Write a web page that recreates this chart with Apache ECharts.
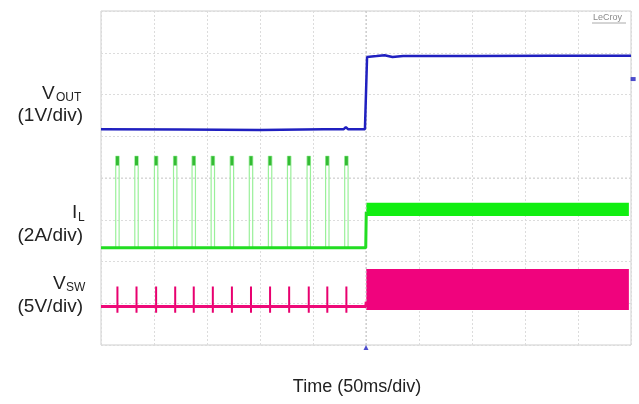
<!DOCTYPE html>
<html><head><meta charset="utf-8">
<script src="https://cdn.jsdelivr.net/npm/echarts@6/dist/echarts.min.js"></script>
<style>html,body{margin:0;padding:0;background:#fff}#c{width:639px;height:404px}</style>
</head><body><div id="c"></div>
<script>
// Time axis in divisions (0..10), vertical in divisions (0..8 from bottom)
const xTicks = [0,1,2,3,4,5,6,7,8,9,10];
const stepTime = 5.0;
const endTime = 9.96;
const pulseTimes = [0.31,0.67,1.04,1.40,1.75,2.11,2.47,2.83,3.19,3.55,3.92,4.27,4.63];
// VOUT trace points [time, level]
const voutPoints = [[0,5.17],[1.5,5.16],[3,5.15],[4.2,5.17],[4.58,5.17],[4.62,5.22],[4.66,5.17],[4.98,5.17],[5.02,6.9],[5.2,6.92],[5.35,6.94],[5.5,6.9],[5.7,6.92],[7,6.92],[8.5,6.93],[10,6.93]];
// Marker levels
const voutMarker = [10.04, 6.37];
const triggerMarker = [5.0, -0.06];
// IL levels
const ilBase = 2.33, ilPeak = 4.52, ilTipLow = 4.30, ilBandLow = 3.09, ilBandHigh = 3.41, ilHalfWidth = 0.032;
// VSW levels
const swBase = 0.92, swTop = 1.40, swBottom = 0.77, swBandLow = 0.84, swBandHigh = 1.82;

const ilPulse = [], ilTips = [], swPulse = [];
pulseTimes.forEach(t => {
  ilPulse.push([t-ilHalfWidth, ilBase],[t-ilHalfWidth, ilPeak],[t+ilHalfWidth, ilPeak],[t+ilHalfWidth, ilBase],[t, null]);
  ilTips.push([t, ilPeak],[t, ilTipLow],[t, null]);
  swPulse.push([t, swBottom],[t, swTop],[t, null]);
});

const chart = echarts.init(document.getElementById('c'), null, {renderer:'canvas'});
const font = 'Liberation Sans, Arial, sans-serif';
chart.setOption({
  animation: false,
  grid: {left: 101, top: 11, width: 530, height: 334, show: true, borderColor: '#cfcfcf', borderWidth: 1, backgroundColor: '#fff'},
  xAxis: {type: 'value', min: 0, max: 10, interval: 1, axisLine:{show:false}, axisTick:{show:false}, axisLabel:{show:false},
    splitLine:{show:true, lineStyle:{color:'#dcdcdc', type:[2,2], width:1}}},
  yAxis: {type: 'value', min: 0, max: 8, interval: 1, axisLine:{show:false}, axisTick:{show:false}, axisLabel:{show:false},
    splitLine:{show:true, lineStyle:{color:'#dcdcdc', type:[2,2], width:1}}},
  series: [
    {type:'line', data:[[stepTime,0],[stepTime,8]], symbol:'none', silent:true, lineStyle:{color:'#c4c4c4', width:1, type:[2,2]}, z:1},
    {type:'line', data:[[0,4],[10,4]], symbol:'none', silent:true, lineStyle:{color:'#d4d4d4', width:1, type:[2,2]}, z:1},
    // IL pulses
    {type:'line', data: ilPulse, symbol:'none', connectNulls:false, lineStyle:{color:'#9af09a', width:1.2}, z:3},
    {type:'line', data: ilTips, symbol:'none', connectNulls:false, lineStyle:{color:'#33bb33', width:3}, z:4},
    // IL baseline + step
    {type:'line', data:[[0,ilBase],[stepTime-0.005,ilBase],[stepTime+0.005,ilBandLow+0.1]], symbol:'none', lineStyle:{color:'#22dd22', width:3}, z:5,
      markArea:{silent:true, itemStyle:{color:'#11ee11', opacity:1}, data:[[{xAxis:stepTime+0.005, yAxis:ilBandLow},{xAxis:endTime, yAxis:ilBandHigh}]]}},
    // VSW pulses
    {type:'line', data: swPulse, symbol:'none', connectNulls:false, lineStyle:{color:'#e8006f', width:2}, z:3},
    {type:'line', data:[[0,swBase],[stepTime-0.005,swBase],[stepTime+0.005,swBandLow+0.2]], symbol:'none', lineStyle:{color:'#ee0a78', width:3}, z:5,
      markArea:{silent:true, itemStyle:{color:'#f0037d', opacity:1}, data:[[{xAxis:stepTime+0.005, yAxis:swBandLow},{xAxis:endTime, yAxis:swBandHigh}]]}},
    // VOUT
    {type:'line', data: voutPoints, symbol:'none', lineStyle:{color:'#2020c0', width:2.5}, z:6},
    {type:'scatter', data:[voutMarker], symbol:'rect', symbolSize:[5,4], itemStyle:{color:'#2020c0'}, clip:false, silent:true, z:7},
    {type:'scatter', data:[triggerMarker], symbol:'triangle', symbolSize:[5,5], itemStyle:{color:'#2020c0'}, clip:false, silent:true, z:7}
  ],
  graphic: [
    {type:'text', x:357, y:387, style:{text:'Time (50ms/div)', font:'18px '+font, fill:'#222', align:'center', verticalAlign:'middle'}},
    {type:'text', x:42, y:94, style:{text:'V', font:'19px '+font, fill:'#222', verticalAlign:'middle'}},
    {type:'text', x:56, y:98, style:{text:'OUT', font:'12px '+font, fill:'#222', verticalAlign:'middle'}},
    {type:'text', x:83, y:116, style:{text:'(1V/div)', font:'19px '+font, fill:'#222', align:'right', verticalAlign:'middle'}},
    {type:'text', x:72, y:213, style:{text:'I', font:'19px '+font, fill:'#222', verticalAlign:'middle'}},
    {type:'text', x:78, y:218, style:{text:'L', font:'12px '+font, fill:'#222', verticalAlign:'middle'}},
    {type:'text', x:83, y:236, style:{text:'(2A/div)', font:'19px '+font, fill:'#222', align:'right', verticalAlign:'middle'}},
    {type:'text', x:53, y:284, style:{text:'V', font:'19px '+font, fill:'#222', verticalAlign:'middle'}},
    {type:'text', x:66, y:288, style:{text:'SW', font:'12px '+font, fill:'#222', verticalAlign:'middle'}},
    {type:'text', x:83, y:307, style:{text:'(5V/div)', font:'19px '+font, fill:'#222', align:'right', verticalAlign:'middle'}},
    {type:'text', x:593, y:13, style:{text:'LeCroy', font:'9px '+font, fill:'#8a8a8a'}},
    {type:'line', shape:{x1:592, y1:23, x2:626, y2:23}, style:{stroke:'#aaa', lineWidth:1}}
  ]
});
</script></body></html>
